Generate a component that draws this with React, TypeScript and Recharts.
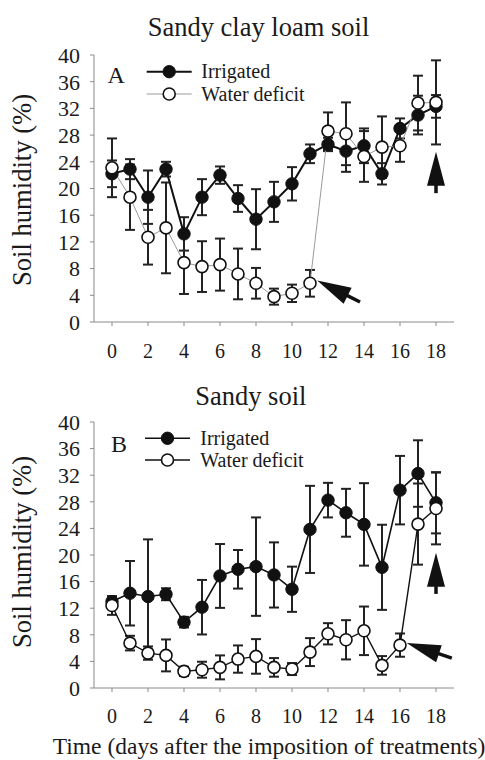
import React from 'react';
import { LineChart, Line, XAxis, YAxis, ErrorBar, ReferenceLine, Legend } from 'recharts';

const days = [0, 1, 2, 3, 4, 5, 6, 7, 8, 9, 10, 11, 12, 13, 14, 15, 16, 17, 18];
const dayTicks = [0, 2, 4, 6, 8, 10, 12, 14, 16, 18];
const humidityTicks = [0, 4, 8, 12, 16, 20, 24, 28, 32, 36, 40];

// A - sandy clay loam soil
const loamIrrigated = [22.2, 22.9, 18.7, 22.9, 13.2, 18.7, 22.0, 18.5, 15.4, 18.0, 20.7, 25.2, 26.6, 25.6, 26.4, 22.2, 29.0, 31.0, 32.3];
const loamIrrigatedErr = [2.0, 1.5, 4.0, 1.1, 2.5, 2.7, 1.3, 2.0, 4.5, 3.0, 2.5, 1.4, 1.0, 3.1, 2.6, 1.6, 1.5, 2.9, 1.7];
const loamDeficit = [23.1, 18.7, 12.7, 14.1, 8.9, 8.3, 8.6, 7.2, 5.8, 3.8, 4.3, 5.8, 28.6, 28.2, 24.8, 26.2, 26.4, 32.8, 32.9];
const loamDeficitErr = [4.4, 4.9, 4.1, 6.8, 4.7, 3.8, 3.9, 3.8, 2.3, 1.2, 1.3, 2.0, 2.8, 4.7, 3.8, 4.6, 2.4, 4.1, 6.3];
const loamArrows = [
  { x1: 13.78, y1: 3.0, x2: 11.4, y2: 6.2 },
  { x1: 18, y1: 19.3, x2: 18, y2: 25.5 },
];

// B - sandy soil
const sandyIrrigated = [13.0, 14.25, 13.75, 14.1, 9.9, 12.15, 16.85, 17.85, 18.25, 17.0, 14.85, 23.85, 28.25, 26.35, 24.6, 18.15, 29.75, 32.25, 27.85];
const sandyIrrigatedErr = [0.8, 4.85, 8.6, 0.9, 0.8, 4.1, 4.8, 2.9, 7.4, 4.9, 3.4, 6.55, 2.6, 3.6, 6.2, 6.4, 5.15, 5.0, 4.6];
const sandyDeficit = [12.4, 6.75, 5.25, 4.9, 2.5, 2.75, 3.1, 4.35, 4.75, 3.1, 2.85, 5.4, 8.15, 7.25, 8.6, 3.4, 6.45, 24.65, 27.0];
const sandyDeficitErr = [1.4, 1.1, 1.0, 2.4, 0.7, 1.2, 1.8, 2.05, 2.6, 1.4, 0.9, 2.1, 1.6, 2.95, 3.65, 1.4, 1.75, 6.1, 5.4];
const sandyArrows = [
  { x1: 18.88, y1: 4.5, x2: 16.37, y2: 6.75 },
  { x1: 18, y1: 14.15, x2: 18, y2: 20.35 },
];

const SERIF = '"Liberation Serif", "Times New Roman", serif';
const INK = '#1a1a1a';
const FRAME = '#8a8a8a';

const buildRows = (irr: number[], irrErr: number[], def: number[], defErr: number[]) =>
  days.map((d, i) => ({ day: d, irrigated: irr[i], irrigatedErr: irrErr[i], deficit: def[i], deficitErr: defErr[i] }));

const filledDot = (p: any) => (
  <circle key={`f${p.index}`} cx={p.cx} cy={p.cy} r={6.2} fill="#111" stroke="#111" strokeWidth={1} />
);
const openDot = (p: any) => (
  <circle key={`o${p.index}`} cx={p.cx} cy={p.cy} r={6} fill="#fff" stroke="#111" strokeWidth={1.6} />
);

const ArrowShape = (p: any) => {
  const { x1, y1, x2, y2 } = p;
  if ([x1, y1, x2, y2].some((v) => typeof v !== 'number' || isNaN(v))) return <g />;
  const dx = x2 - x1;
  const dy = y2 - y1;
  const len = Math.hypot(dx, dy) || 1;
  const ux = dx / len;
  const uy = dy / len;
  const head = 34;
  const half = 9;
  const bx = x2 - ux * head;
  const by = y2 - uy * head;
  const px = -uy;
  const py = ux;
  return (
    <g>
      <line x1={x1} y1={y1} x2={bx + ux * 2} y2={by + uy * 2} stroke="#111" strokeWidth={3.5} />
      <polygon
        points={`${x2},${y2} ${bx + px * half},${by + py * half} ${bx - px * half},${by - py * half}`}
        fill="#111"
      />
    </g>
  );
};

type PanelProps = {
  top: number;
  height: number;
  plotTop: number;
  axisHeight: number;
  tickGap: number;
  title: string;
  titleX: number;
  titleTop: number;
  letter: string;
  letterX: number;
  letterY: number;
  rowY: number[];
  lineX: [number, number];
  textX: number;
  yLabelTop: number;
  rows: any[];
  arrows: { x1: number; y1: number; x2: number; y2: number }[];
  deficitStroke: string;
  deficitWidth: number;
  irrigatedWidth: number;
};

function Panel(props: PanelProps) {
  const { rowY, lineX, textX, letter, letterX, letterY } = props;

  const renderLegend = (lp: any) => {
    const payload = (lp.payload || []) as any[];
    return (
      <svg width={485} height={130} style={{ display: 'block', overflow: 'visible' }}>
        <text x={letterX} y={letterY} fontSize={24} fontFamily={SERIF} fill={INK}>
          {letter}
        </text>
        {payload.map((entry: any, i: number) => {
          const y = entry.value === 'Irrigated' ? rowY[0] : rowY[1];
          const filled = entry.value === 'Irrigated';
          const cx = (lineX[0] + lineX[1]) / 2;
          return (
            <g key={entry.value || i}>
              <line
                x1={lineX[0]}
                y1={y}
                x2={lineX[1]}
                y2={y}
                stroke={entry.color}
                strokeWidth={entry.payload?.strokeWidth ?? 1.5}
              />
              {filled ? filledDot({ cx, cy: y, index: 'l' }) : openDot({ cx, cy: y, index: 'l' })}
              <text x={textX} y={y + 6.6} fontSize={20} fontFamily={SERIF} fill={INK}>
                {entry.value}
              </text>
            </g>
          );
        })}
      </svg>
    );
  };

  return (
    <div
      style={{ position: 'absolute', left: 0, top: props.top, width: 485, height: props.height, fontFamily: SERIF }}
    >
      <LineChart
        width={485}
        height={props.height}
        data={props.rows}
        margin={{ top: props.plotTop, right: 31, bottom: 0, left: 0 }}
        style={{ fontFamily: SERIF }}
      >
        <XAxis
          dataKey="day"
          type="number"
          domain={[-1, 19]}
          ticks={dayTicks}
          interval={0}
          allowDataOverflow
          height={props.axisHeight}
          tickSize={4}
          tickMargin={props.tickGap}
          stroke={FRAME}
          tick={{ fontSize: 20, fill: INK, fontFamily: SERIF }}
        />
        <XAxis
          xAxisId="top"
          orientation="top"
          dataKey="day"
          type="number"
          domain={[-1, 19]}
          height={0}
          tick={false}
          tickLine={false}
          stroke={FRAME}
        />
        <YAxis
          type="number"
          domain={[0, 40]}
          ticks={humidityTicks}
          interval={0}
          allowDataOverflow
          width={94}
          tickSize={4}
          tickMargin={10}
          stroke={FRAME}
          tick={{ fontSize: 22, fill: INK, fontFamily: SERIF }}
        />
        <YAxis
          yAxisId="right"
          orientation="right"
          type="number"
          domain={[0, 40]}
          width={0}
          tick={false}
          tickLine={false}
          stroke={FRAME}
        />
        <Legend
          layout="horizontal"
          verticalAlign="middle"
          align="center"
          content={renderLegend}
          wrapperStyle={{ position: 'absolute', left: 0, top: 0, width: 485, height: 130, margin: 0, padding: 0 }}
        />
        <Line
          name="Irrigated"
          dataKey="irrigated"
          stroke="#111"
          strokeWidth={props.irrigatedWidth}
          dot={filledDot}
          activeDot={false}
          isAnimationActive={false}
        >
          <ErrorBar dataKey="irrigatedErr" direction="y" width={5} stroke="#222" strokeWidth={2} isAnimationActive={false} />
        </Line>
        <Line
          name="Water deficit"
          dataKey="deficit"
          stroke={props.deficitStroke}
          strokeWidth={props.deficitWidth}
          dot={openDot}
          activeDot={false}
          isAnimationActive={false}
        >
          <ErrorBar dataKey="deficitErr" direction="y" width={5} stroke="#222" strokeWidth={2} isAnimationActive={false} />
        </Line>
        {props.arrows.map((a, i) => (
          <ReferenceLine
            key={i}
            segment={[
              { x: a.x1, y: a.y1 },
              { x: a.x2, y: a.y2 },
            ]}
            ifOverflow="visible"
            shape={ArrowShape}
          />
        ))}
      </LineChart>
      <div
        style={{
          position: 'absolute',
          left: props.titleX,
          top: props.titleTop,
          transform: 'translateX(-50%)',
          whiteSpace: 'nowrap',
          fontFamily: SERIF,
          fontSize: 26.5,
          lineHeight: '26.5px',
          color: INK,
        }}
      >
        {props.title}
      </div>
      <div
        style={{
          position: 'absolute',
          left: 8.7,
          top: props.yLabelTop,
          transformOrigin: 'left top',
          transform: 'rotate(-90deg)',
          whiteSpace: 'nowrap',
          fontFamily: SERIF,
          fontSize: 26.6,
          lineHeight: '26.6px',
          color: INK,
        }}
      >
        Soil humidity (%)
      </div>
    </div>
  );
}

export default function App() {
  const loamRows = buildRows(loamIrrigated, loamIrrigatedErr, loamDeficit, loamDeficitErr);
  const sandyRows = buildRows(sandyIrrigated, sandyIrrigatedErr, sandyDeficit, sandyDeficitErr);

  return (
    <div
      style={{
        position: 'absolute',
        left: 0,
        top: 0,
        width: 485,
        height: 760,
        background: '#fff',
        overflow: 'hidden',
        fontFamily: SERIF,
      }}
    >
      <Panel
        top={0}
        height={370}
        plotTop={55}
        axisHeight={48}
        tickGap={18}
        title="Sandy clay loam soil"
        titleX={258.5}
        titleTop={14.2}
        letter="A"
        letterX={107.5}
        letterY={83.3}
        rowY={[71.7, 94]}
        lineX={[146.7, 191.7]}
        textX={201.3}
        yLabelTop={286}
        rows={loamRows}
        arrows={loamArrows}
        deficitStroke="#9a9a9a"
        deficitWidth={1}
        irrigatedWidth={2}
      />
      <Panel
        top={370}
        height={390}
        plotTop={52}
        axisHeight={72}
        tickGap={17}
        title="Sandy soil"
        titleX={250.8}
        titleTop={13.2}
        letter="B"
        letterX={111}
        letterY={81.7}
        rowY={[68.3, 90]}
        lineX={[145, 190]}
        textX={200.3}
        yLabelTop={647.7 - 370}
        rows={sandyRows}
        arrows={sandyArrows}
        deficitStroke="#111"
        deficitWidth={1.4}
        irrigatedWidth={1.6}
      />
      <div
        style={{
          position: 'absolute',
          left: 269,
          top: 735.3,
          transform: 'translateX(-50%)',
          whiteSpace: 'nowrap',
          fontFamily: SERIF,
          fontSize: 23.5,
          lineHeight: '23.5px',
          color: INK,
        }}
      >
        Time (days after the imposition of treatments)
      </div>
    </div>
  );
}
